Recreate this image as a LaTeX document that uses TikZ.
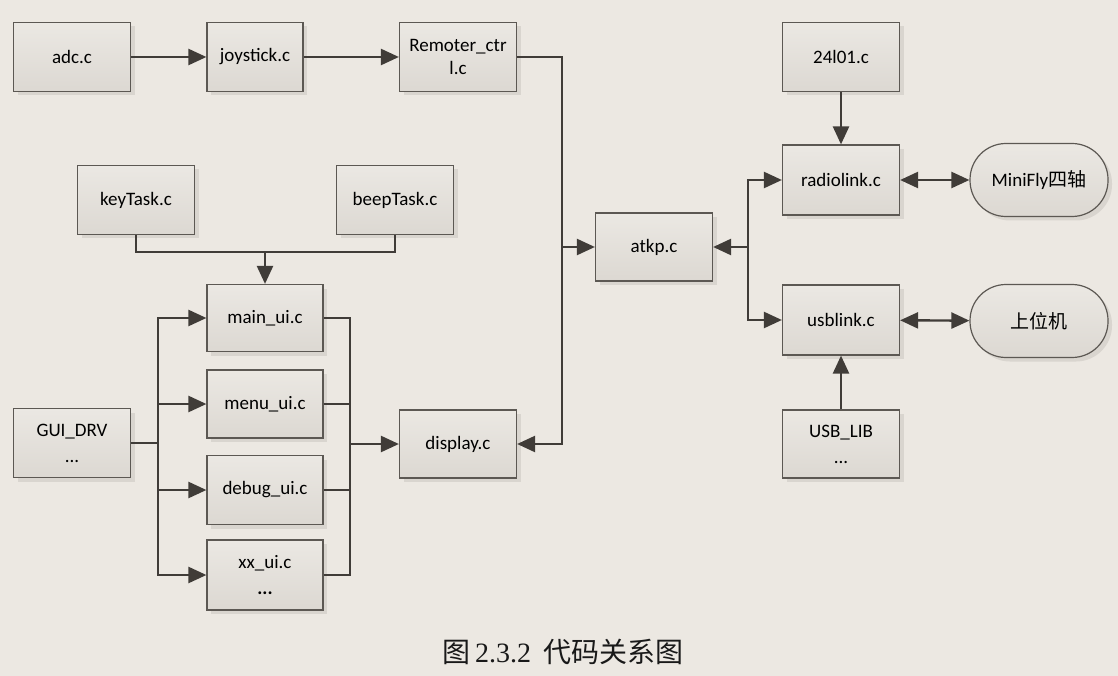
\documentclass[tikz,border=0pt]{standalone}
\usepackage{fontspec}
\setmainfont{Carlito}
\newfontfamily\cjk{Noto Sans CJK SC}
\newfontfamily\capserif{Liberation Serif}
\usetikzlibrary{arrows.meta,shadows}
\definecolor{bg}{HTML}{ECE8E2}
\definecolor{boxtop}{HTML}{EBE8E3}
\definecolor{boxbot}{HTML}{DCD8D2}
\definecolor{boxline}{HTML}{5C5853}
\definecolor{shadowc}{HTML}{D9D5CF}
\definecolor{linec}{HTML}{403C38}
\begin{document}
\begin{tikzpicture}[x=1pt,y=-1pt,
  box/.style={draw=boxline, line width=1.2pt, top color=boxtop, bottom color=boxbot,
    minimum width=117pt, minimum height=69pt, inner sep=0pt, align=center,
    font=\fontsize{19}{24}\selectfont, text=black,
    drop shadow={shadow xshift=4pt, shadow yshift=-4pt, fill=shadowc, opacity=1}},
  twoline/.style={font=\fontsize{19}{26}\selectfont},
  stadium/.style={box, minimum width=138pt, minimum height=73pt, rounded corners=36pt},
  wire/.style={draw=linec, line width=2.4pt},
  conn/.style={wire, -{Triangle[length=18pt,width=16pt]}},
  conn2/.style={wire, {Triangle[length=18pt,width=16pt]}-{Triangle[length=18pt,width=16pt]}}
]
\fill[bg] (0,0) rectangle (1118,676);
\useasboundingbox (0,0) rectangle (1118,676);

% nodes
\node[box] (adc) at (72,57) {adc.c};
\node[box, minimum width=96pt] (joy) at (255,57) {joystick.c};
\node[box, font=\fontsize{19}{23}\selectfont] (rem) at (458,57) {Remoter\_ctr\\l.c};
\node[box] (nrf) at (841,57) {24l01.c};
\node[box] (key) at (136,200) {keyTask.c};
\node[box] (beep) at (395,200) {beepTask.c};
\node[box, minimum height=68pt] (atkp) at (654,247) {atkp.c};
\node[box, minimum height=70pt] (radio) at (841,180) {radiolink.c};
\node[stadium] (mini) at (1039,180) {MiniFly{\cjk 四轴}};
\node[box, minimum height=70pt] (usb) at (841,320) {usblink.c};
\node[stadium] (host) at (1039,321) {\cjk 上位机};
\node[box, minimum width=116pt, minimum height=67pt] (mainui) at (265,318) {main\_ui.c};
\node[box, minimum width=116pt, minimum height=68pt] (menuui) at (265,404) {menu\_ui.c};
\node[box, minimum width=116pt, minimum height=69pt] (debugui) at (265,490) {debug\_ui.c};
\node[box, twoline, minimum width=116pt, minimum height=70pt] (xxui) at (265,575) {xx\_ui.c\\\textbf{...}};
\node[box, twoline] (gui) at (72,443) {GUI\_DRV\\...};
\node[box, minimum height=68pt] (disp) at (458,444) {display.c};
\node[box, twoline, minimum height=68pt] (usblib) at (841,444) {USB\_LIB\\...};

% caption
\node[font=\fontsize{28}{32}\selectfont, text=black!90] (cap) at (563,652)
  {{\cjk 图}\,{\capserif 2.3.2}\ \ {\cjk 代码关系图}};

% connectors
\draw[conn] (adc) -- (joy);
\draw[conn] (joy) -- (rem);

\coordinate (busA) at (562,247);
\draw[wire] (rem.east) -| (busA);
\draw[conn] (busA) -- (atkp.west);
\draw[conn] (busA) |- (disp.east);

\coordinate (kb) at (265,252);
\draw[wire] (key.south) |- (kb) -| (beep.south);
\draw[conn] (kb) -- (mainui.north);

\coordinate (lb) at (158,443);
\draw[wire] (gui.east) -- (lb);
\draw[conn] (lb) |- (mainui.west);
\draw[conn] (lb) |- (menuui.west);
\draw[conn] (lb) |- (debugui.west);
\draw[conn] (lb) |- (xxui.west);

\coordinate (rb) at (350,444);
\draw[wire] (mainui.east) -| (rb);
\draw[wire] (xxui.east) -| (rb);
\draw[wire] (menuui.east) -- (menuui.east -| rb);
\draw[wire] (debugui.east) -- (debugui.east -| rb);
\draw[conn] (rb) -- (disp.west);

\coordinate (rr) at (748,247);
\draw[conn] (rr) -- (atkp.east);
\draw[conn] (rr) |- (radio.west);
\draw[conn] (rr) |- (usb.west);

\draw[conn] (nrf) -- (radio);
\draw[conn] (usblib) -- (usb);
\draw[conn2] (radio) -- (mini);
\draw[conn2] (usb) -- (host);
\end{tikzpicture}
\end{document}
